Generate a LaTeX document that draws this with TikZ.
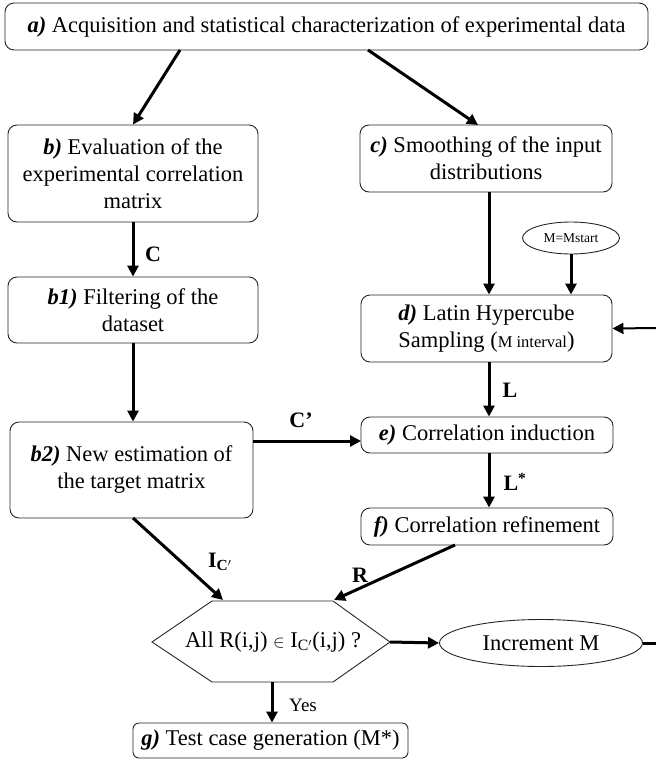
\documentclass[tikz,border=0pt]{standalone}
\usepackage{fontspec}
\setmainfont{Liberation Serif}
\usetikzlibrary{arrows.meta,shapes.geometric}
\begin{document}
\begin{tikzpicture}[x=1pt,y=-1pt,
 box/.style={draw=black!85,line width=0.9pt,rounded corners=9pt,inner sep=0pt,
   font=\fontsize{22.5}{27}\selectfont,align=center},
 oval/.style={draw=black!85,line width=0.9pt,ellipse,inner sep=0pt},
 arr/.style={line width=3pt,-{Triangle[length=11pt,width=11pt]}},
 lbl/.style={font=\fontsize{22}{24}\selectfont\bfseries,inner sep=0pt}]
\useasboundingbox (0,0) rectangle (655,759);
\newcommand{\stag}[1]{\textbf{\textit{#1}}}
% boxes
\node[box,minimum width=643pt,minimum height=47pt] (a) at (326.5,26.5)
  {\stag{a)} Acquisition and statistical characterization of experimental data};
\node[box,minimum width=250pt,minimum height=97pt] (b) at (133,173.5)
  {\stag{b)} Evaluation of the\\experimental correlation\\matrix};
\node[box,minimum width=250pt,minimum height=66pt] (b1) at (133,310)
  {\stag{b1)} Filtering of the\\dataset};
\node[box,minimum width=243pt,minimum height=96pt] (b2) at (131.5,470)
  {\stag{b2)} New estimation of\\the target matrix};
\node[box,minimum width=252pt,minimum height=67pt] (c) at (486,158.5)
  {\stag{c)} Smoothing of the input\\distributions};
\node[box,minimum width=251pt,minimum height=67pt] (d) at (486.5,328.5)
  {\stag{d)} Latin Hypercube\\Sampling ({\fontsize{16.5}{18}\selectfont M interval})};
\node[box,minimum width=252pt,minimum height=36pt] (e) at (487,435)
  {\stag{e)} Correlation induction};
\node[box,minimum width=252pt,minimum height=37pt] (f) at (487,526.5)
  {\stag{f)} Correlation refinement};
\node[box,minimum width=275pt,minimum height=35pt,rounded corners=6pt] (g) at (270.5,740.5)
  {\stag{g)} Test case generation (M*)};
\node[oval,minimum width=97pt,minimum height=32pt,font=\fontsize{13.5}{15}\selectfont] (ms) at (571,238) {M=Mstart};
\node[oval,minimum width=203pt,minimum height=47pt,font=\fontsize{22.5}{24}\selectfont] (inc) at (541,643) {Increment M};
% hexagon
\coordinate (hW) at (152,642);
\coordinate (hNW) at (212,601);
\coordinate (hNE) at (333,601);
\coordinate (hE) at (390,642);
\coordinate (hSE) at (333,682);
\coordinate (hSW) at (212,682);
\draw[line width=0.9pt,black!85] (hW) -- (hNW) -- (hNE) -- (hE) -- (hSE) -- (hSW) -- cycle;
\node[font=\fontsize{22.5}{24}\selectfont] (hx) at (273,642) {All R(i,j) {\fontsize{18}{20}\selectfont$\in$} I$_{\mathrm{C'}}$(i,j) ?};
% helper coordinates
\coordinate (aL) at (180,50);
\coordinate (aR) at (368,50);
\coordinate (cN) at (478,125);
\coordinate (b2E) at (253,441);
\coordinate (eW) at (361,441);
\coordinate (b2S) at (133,518);
\coordinate (hIn1) at (223,600);
\coordinate (fS) at (455,545);
\coordinate (hIn2) at (334,600);
\coordinate (hS) at (272,682);
\coordinate (rB) at (658,643);
\coordinate (rT) at (658,328);
% connectors
\draw[arr] (aL) -- (b.north);
\draw[arr] (aR) -- (cN);
\draw[arr] (b.south) -- (b1.north);
\draw[arr] (b1.south) -- (b1.south |- b2.north);
\draw[arr] (b2E) -- (eW);
\draw[arr] (c.south -| 489,0) -- (d.north -| 489,0);
\draw[arr] (ms.south) -- (ms.south |- d.north);
\draw[arr] (d.south -| 489,0) -- (e.north -| 489,0);
\draw[arr] (e.south -| 489,0) -- (f.north -| 489,0);
\draw[arr] (b2S) -- (hIn1);
\draw[arr] (fS) -- (hIn2);
\draw[arr] (hE) -- (inc.west);
\draw[arr] (hS) -- (hS |- g.north);
\draw[line width=3pt] (inc.east) -- (rB) -- (rT);
\draw[line width=2pt,-{Triangle[length=11pt,width=11pt]}] (rT) -- (d.east);
% labels
\node[lbl] (lC) at (153,254) {C};
\node[lbl] (lCp) at (301,420) {C'};
\node[lbl] (lL) at (510,390) {L};
\node[lbl] (lLs) at (515,482) {L\textsuperscript{*}};
\node[lbl] (lI) at (220,562) {I$_{\mathbf{C'}}$};
\node[lbl] (lR) at (360,575) {R};
\node[font=\fontsize{19}{20}\selectfont] (lY) at (303,705) {Yes};
\end{tikzpicture}
\end{document}
